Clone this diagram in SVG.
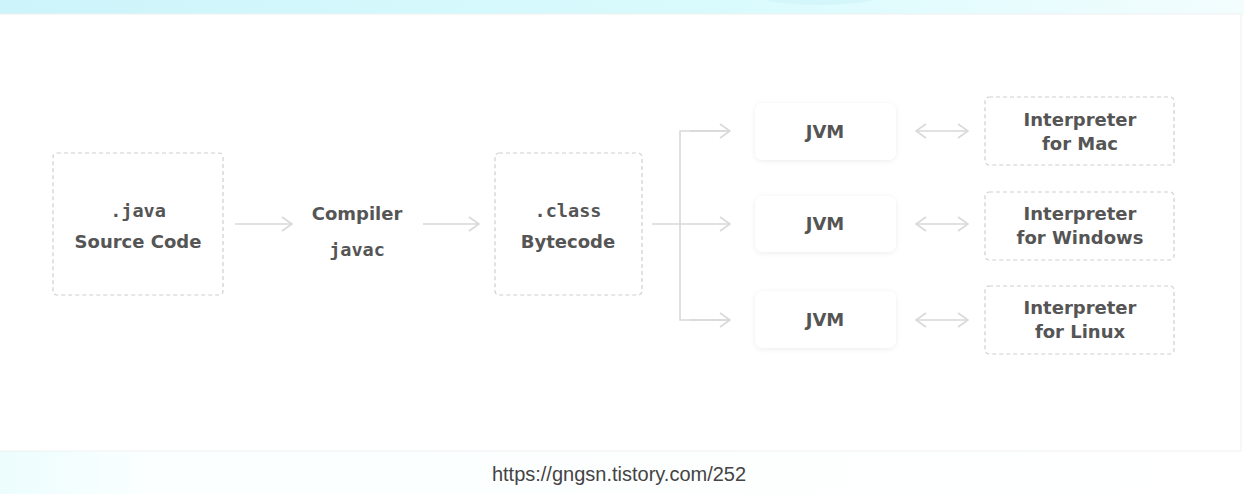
<svg xmlns="http://www.w3.org/2000/svg" width="1244" height="494" viewBox="0 0 1244 494">
<style>
.dash{fill:#fff;stroke:#cfcfcf;stroke-width:1.2;stroke-dasharray:4 3}
.jvm{fill:#fff}
.t{font-family:"DejaVu Sans","Liberation Sans",sans-serif;font-weight:bold;font-size:18px;fill:#555;text-anchor:middle}
.m{font-family:"DejaVu Sans Mono","Liberation Mono",monospace;font-weight:bold;font-size:18.5px;fill:#555;text-anchor:middle}
.c{fill:none;stroke:#d9d9d9;stroke-width:1.6}
.url{font-family:"Liberation Sans",Arial,sans-serif;font-size:20px;fill:#444;text-anchor:middle}
</style>
<defs>
<linearGradient id="top" x1="0" y1="0" x2="1" y2="0">
<stop offset="0" stop-color="#cdf4fb"/>
<stop offset="0.6" stop-color="#dafbfd"/>
<stop offset="1" stop-color="#f3fdfe"/>
</linearGradient>
<linearGradient id="bot" x1="0" y1="0" x2="1" y2="0">
<stop offset="0" stop-color="#ecfdfe"/>
<stop offset="0.12" stop-color="#fbffff"/>
<stop offset="1" stop-color="#ffffff"/>
</linearGradient>
<filter id="sh" x="-20%" y="-30%" width="140%" height="160%">
<feDropShadow dx="0" dy="1" stdDeviation="2.5" flood-color="#000" flood-opacity="0.08"/>
</filter>
<marker id="ah" viewBox="0 0 12 16" refX="11" refY="8" markerWidth="12" markerHeight="16" markerUnits="userSpaceOnUse" orient="auto-start-reverse">
<path d="M1,1 L11,8 L1,15" fill="none" stroke="#d9d9d9" stroke-width="1.6"/>
</marker>
</defs>
<rect x="0" y="0" width="1244" height="494" fill="url(#bot)"/>
<rect x="0" y="0" width="1244" height="16" fill="url(#top)"/>
<ellipse cx="820" cy="-8" rx="70" ry="13" fill="#cdf4fa" opacity="0.6"/>
<rect x="-1" y="14" width="1242" height="437" fill="#fff" stroke="#f0f0f0" stroke-width="1"/>

<g id="connectors">
<line class="c" x1="235" y1="224" x2="292" y2="224" marker-end="url(#ah)"/>
<line class="c" x1="423" y1="224" x2="479" y2="224" marker-end="url(#ah)"/>
<line class="c" x1="652" y1="224" x2="730" y2="224" marker-end="url(#ah)"/>
<polyline class="c" points="730,131 680,131 680,320 730,320"/>
<line class="c" x1="690" y1="131" x2="730" y2="131" marker-end="url(#ah)"/>
<line class="c" x1="690" y1="320" x2="730" y2="320" marker-end="url(#ah)"/>
<line class="c" x1="916" y1="131" x2="968" y2="131" marker-start="url(#ah)" marker-end="url(#ah)"/>
<line class="c" x1="916" y1="224" x2="968" y2="224" marker-start="url(#ah)" marker-end="url(#ah)"/>
<line class="c" x1="916" y1="320" x2="968" y2="320" marker-start="url(#ah)" marker-end="url(#ah)"/>
</g>

<g id="source">
<rect class="dash" x="53" y="153" width="170" height="142" rx="4"/>
<text class="m" x="138" y="217">.java</text>
<text class="t" x="138" y="248">Source Code</text>
</g>
<g id="compiler">
<text class="t" x="357" y="220">Compiler</text>
<text class="m" x="357" y="256">javac</text>
</g>
<g id="bytecode">
<rect class="dash" x="495" y="153" width="147" height="142" rx="4"/>
<text class="m" x="568" y="217">.class</text>
<text class="t" x="568" y="248">Bytecode</text>
</g>
<g id="jvm1">
<rect class="jvm" filter="url(#sh)" x="755" y="103" width="141" height="57" rx="8"/>
<text class="t" x="825" y="138">JVM</text>
</g>
<g id="jvm2">
<rect class="jvm" filter="url(#sh)" x="755" y="196" width="141" height="56" rx="8"/>
<text class="t" x="825" y="230">JVM</text>
</g>
<g id="jvm3">
<rect class="jvm" filter="url(#sh)" x="755" y="291" width="141" height="57" rx="8"/>
<text class="t" x="825" y="326">JVM</text>
</g>
<g id="interp-mac">
<rect class="dash" x="985" y="97" width="189" height="68" rx="4"/>
<text class="t" x="1080" y="126">Interpreter</text>
<text class="t" x="1080" y="150">for Mac</text>
</g>
<g id="interp-win">
<rect class="dash" x="985" y="192" width="189" height="68" rx="4"/>
<text class="t" x="1080" y="220">Interpreter</text>
<text class="t" x="1080" y="244">for Windows</text>
</g>
<g id="interp-linux">
<rect class="dash" x="985" y="286" width="189" height="68" rx="4"/>
<text class="t" x="1080" y="314">Interpreter</text>
<text class="t" x="1080" y="338">for Linux</text>
</g>
<text class="url" x="619" y="481">https://gngsn.tistory.com/252</text>
</svg>
